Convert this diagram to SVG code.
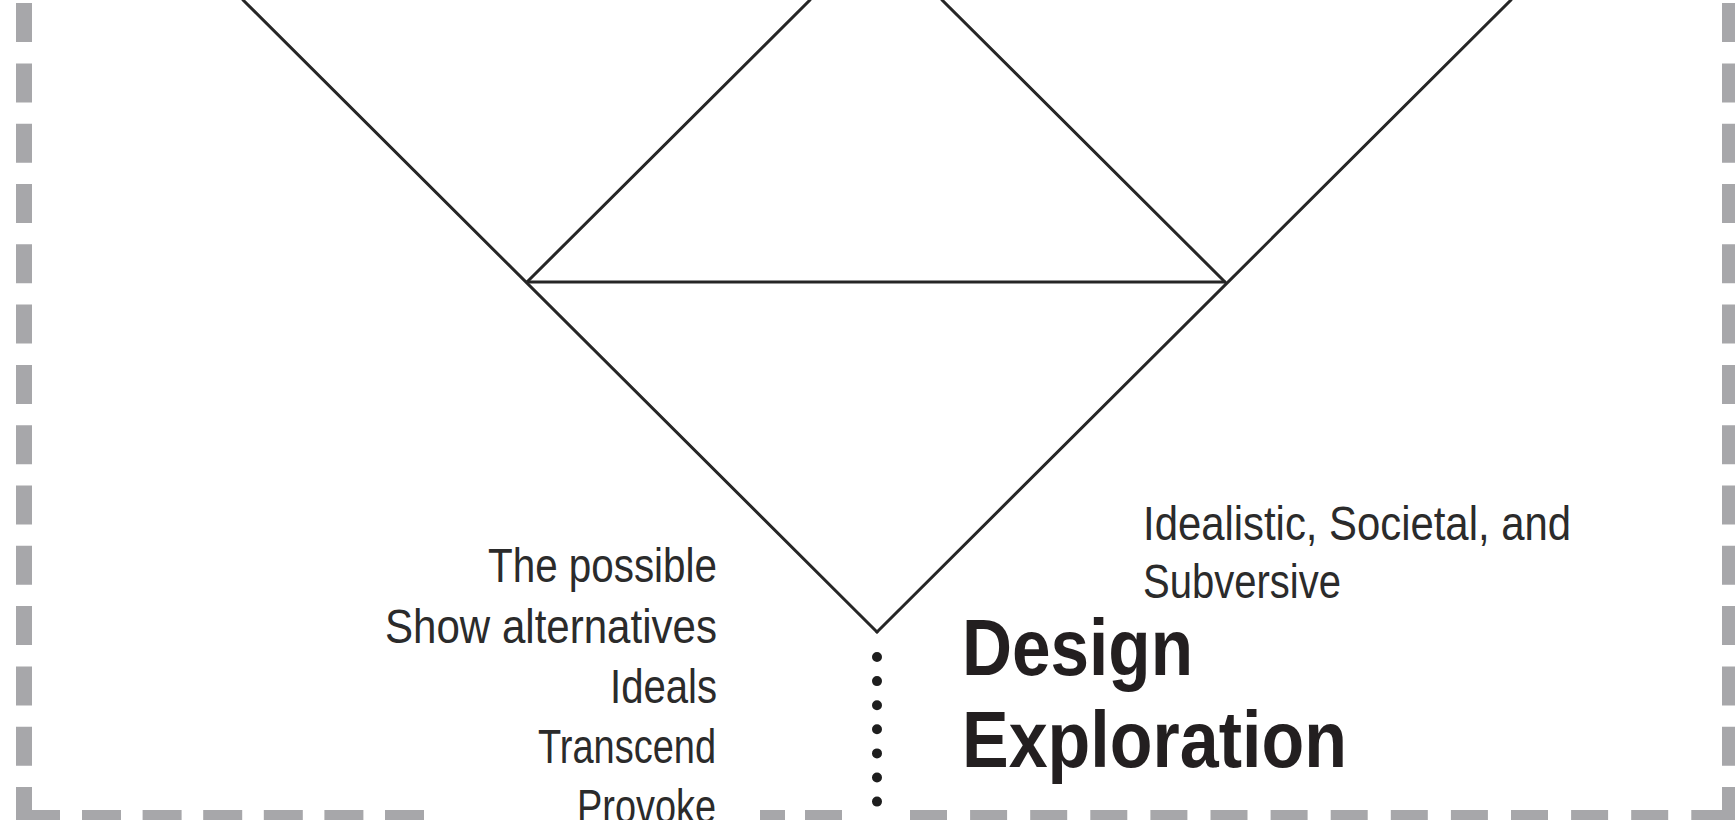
<svg xmlns="http://www.w3.org/2000/svg" width="1735" height="820" viewBox="0 0 1735 820">
<style>
.border{stroke:#a7a7aa;stroke-width:16;fill:none}
.ln{stroke:#262626;stroke-width:3;fill:none;stroke-linecap:round}
.reg{font-family:"Liberation Sans",Arial,sans-serif;font-size:48.5px;fill:#2b2b2b}
.bold{font-family:"Liberation Sans",Arial,sans-serif;font-size:79px;font-weight:bold;fill:#231f20}
</style>
<rect width="1735" height="820" fill="#ffffff"/>
<g id="border">
<line class="border" x1="24" y1="826" x2="24" y2="0" stroke-dasharray="39 21.3"/>
<line class="border" x1="1730" y1="826" x2="1730" y2="0" stroke-dasharray="39 21.3"/>
<line class="border" x1="16" y1="818" x2="60" y2="818"/>
<line class="border" x1="82" y1="818" x2="424" y2="818" stroke-dasharray="39 21.6"/>
<line class="border" x1="760" y1="818" x2="842" y2="818" stroke-dasharray="25 20 37 20"/>
<line class="border" x1="910" y1="818" x2="1738" y2="818" stroke-dasharray="37 23.1"/>
</g>
<g id="connectors">
<line class="ln" x1="243" y1="0" x2="877" y2="632"/>
<line class="ln" x1="877" y1="632" x2="1511" y2="0"/>
<line class="ln" x1="527" y1="282" x2="810" y2="0"/>
<line class="ln" x1="1225" y1="282" x2="942" y2="0"/>
<line class="ln" x1="527" y1="282" x2="1225" y2="282"/>
<line x1="877" y1="657" x2="877" y2="832" stroke="#1e1e1e" stroke-width="10" stroke-linecap="round" stroke-dasharray="0 24.1"/>
</g>
<g id="left-list">
<text class="reg" x="488" y="582" textLength="229" lengthAdjust="spacingAndGlyphs">The possible</text>
<text class="reg" x="385" y="642.5" textLength="332" lengthAdjust="spacingAndGlyphs">Show alternatives</text>
<text class="reg" x="610" y="702.5" textLength="107" lengthAdjust="spacingAndGlyphs">Ideals</text>
<text class="reg" x="538" y="762.5" textLength="178" lengthAdjust="spacingAndGlyphs">Transcend</text>
<text class="reg" x="577" y="823" textLength="139" lengthAdjust="spacingAndGlyphs">Provoke</text>
</g>
<g id="right-label">
<text class="reg" x="1143" y="540" textLength="428" lengthAdjust="spacingAndGlyphs">Idealistic, Societal, and</text>
<text class="reg" x="1143" y="598" textLength="198" lengthAdjust="spacingAndGlyphs">Subversive</text>
</g>
<g id="title">
<text class="bold" x="962" y="675" textLength="231" lengthAdjust="spacingAndGlyphs">Design</text>
<text class="bold" x="962" y="767" textLength="385" lengthAdjust="spacingAndGlyphs">Exploration</text>
</g>
</svg>
